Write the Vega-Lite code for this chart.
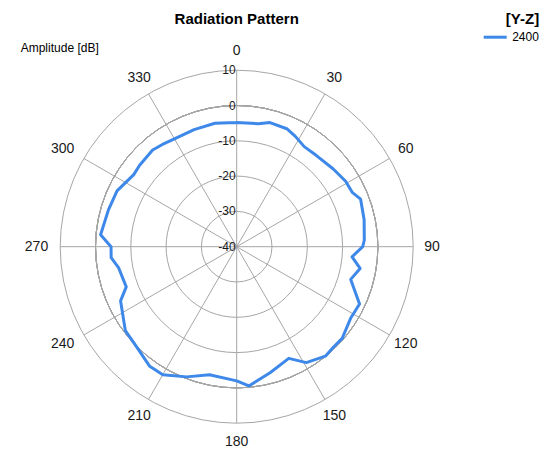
{
  "$schema": "https://vega.github.io/schema/vega-lite/v6.json",
  "width": 353,
  "height": 353,
  "autosize": {"type": "none"},
  "padding": {"left": 60.2, "top": 70.2, "right": 145.8, "bottom": 27.8},
  "background": "white",
  "title": {"text": "Radiation Pattern", "fontSize": 15, "font": "Liberation Sans", "fontWeight": "bold", "color": "#000000", "anchor": "middle", "dy": 19},
  "config": {"view": {"stroke": null}, "font": "Liberation Sans"},
  "datasets": {
    "pattern": [
      {"angle": 0, "dB": -4.8}, {"angle": 10, "dB": -4.6}, {"angle": 15, "dB": -3.6}, {"angle": 23, "dB": -3.7},
      {"angle": 28, "dB": -4.6}, {"angle": 34, "dB": -5.8}, {"angle": 41, "dB": -5.7}, {"angle": 51, "dB": -4.9},
      {"angle": 59, "dB": -4.0}, {"angle": 65, "dB": -3.8}, {"angle": 69, "dB": -2.4}, {"angle": 78, "dB": -3.1},
      {"angle": 87, "dB": -3.8}, {"angle": 90, "dB": -4.3}, {"angle": 95, "dB": -7.2}, {"angle": 100, "dB": -4.5},
      {"angle": 106, "dB": -6.4}, {"angle": 115, "dB": -1.6}, {"angle": 122, "dB": -1.9}, {"angle": 131, "dB": -0.4},
      {"angle": 136, "dB": -0.5}, {"angle": 141, "dB": -0.1}, {"angle": 149, "dB": -1.7}, {"angle": 155, "dB": -5.1},
      {"angle": 165, "dB": -3.1}, {"angle": 175, "dB": -0.4}, {"angle": 180, "dB": -2.0}, {"angle": 192, "dB": -2.9},
      {"angle": 201, "dB": -0.5}, {"angle": 210, "dB": 1.9}, {"angle": 216, "dB": 1.9}, {"angle": 225, "dB": 0.1},
      {"angle": 233, "dB": -0.5}, {"angle": 245, "dB": -3.7}, {"angle": 250, "dB": -6.7}, {"angle": 260, "dB": -6.0},
      {"angle": 265, "dB": -4.3}, {"angle": 270, "dB": -4.4}, {"angle": 275, "dB": -1.3}, {"angle": 286, "dB": -2.2},
      {"angle": 295, "dB": -2.6}, {"angle": 305, "dB": -4.4}, {"angle": 310, "dB": -4.1}, {"angle": 319, "dB": -3.7},
      {"angle": 324, "dB": -4.2}, {"angle": 330, "dB": -4.7}, {"angle": 340, "dB": -4.7}, {"angle": 350, "dB": -4.5},
      {"angle": 360, "dB": -4.8}
    ],
    "rings": [{"dB": -30}, {"dB": -20}, {"dB": -10}, {"dB": 0}, {"dB": 10}],
    "spokes": [{"angle": 0}, {"angle": 30}, {"angle": 60}, {"angle": 90}, {"angle": 120}, {"angle": 150}],
    "angleLabels": [
      {"angle": 0}, {"angle": 30}, {"angle": 60}, {"angle": 90}, {"angle": 120}, {"angle": 150},
      {"angle": 180}, {"angle": 210}, {"angle": 240}, {"angle": 270}, {"angle": 300}, {"angle": 330}
    ],
    "radialLabels": [{"dB": 10}, {"dB": 0}, {"dB": -10}, {"dB": -20}, {"dB": -30}, {"dB": -40}]
  },
  "layer": [
    {
      "data": {"name": "rings"},
      "mark": {"type": "arc", "filled": false, "stroke": "#a6a6a6", "strokeWidth": 1, "theta": 0, "theta2": 6.2832},
      "encoding": {
        "radius": {"field": "dB", "type": "quantitative", "stack": null, "scale": {"type": "linear", "domain": [-40, 10], "range": [0, 176.5], "zero": false}}
      }
    },
    {
      "data": {"name": "spokes"},
      "transform": [
        {"calculate": "50*sin(datum.angle*PI/180)", "as": "x"},
        {"calculate": "50*cos(datum.angle*PI/180)", "as": "y"},
        {"calculate": "-datum.x", "as": "x2"},
        {"calculate": "-datum.y", "as": "y2"}
      ],
      "mark": {"type": "rule", "stroke": "#a6a6a6", "strokeWidth": 1},
      "encoding": {
        "x": {"field": "x", "type": "quantitative", "scale": {"domain": [-50, 50], "nice": false, "zero": false}, "axis": null},
        "y": {"field": "y", "type": "quantitative", "scale": {"domain": [-50, 50], "nice": false, "zero": false},
              "axis": {"title": "Amplitude [dB]", "domain": false, "ticks": false, "labels": false, "grid": false, "titleAngle": 0, "titleX": -40, "titleY": -23, "titleAlign": "left", "titleBaseline": "middle", "titleFontWeight": "normal", "titleFontSize": 12, "titleColor": "#000000", "titleFont": "Liberation Sans"}},
        "x2": {"field": "x2"},
        "y2": {"field": "y2"}
      }
    },
    {
      "data": {"name": "pattern"},
      "transform": [
        {"calculate": "datum.dB + 40", "as": "r"},
        {"calculate": "datum.r*sin(datum.angle*PI/180)", "as": "x"},
        {"calculate": "datum.r*cos(datum.angle*PI/180)", "as": "y"}
      ],
      "mark": {"type": "line", "strokeWidth": 3, "strokeJoin": "round", "strokeCap": "round"},
      "encoding": {
        "x": {"field": "x", "type": "quantitative", "axis": null},
        "y": {"field": "y", "type": "quantitative",
              "axis": {"title": "Amplitude [dB]", "domain": false, "ticks": false, "labels": false, "grid": false, "titleAngle": 0, "titleX": -40, "titleY": -23, "titleAlign": "left", "titleBaseline": "middle", "titleFontWeight": "normal", "titleFontSize": 12, "titleColor": "#000000", "titleFont": "Liberation Sans"}},
        "order": {"field": "angle", "type": "quantitative"},
        "color": {"datum": "2400", "type": "nominal", "scale": {"range": ["#3d88e8"]},
                  "legend": {"title": "[Y-Z]", "orient": "none", "legendX": 422, "legendY": -58, "symbolType": "stroke", "symbolSize": 529, "symbolStrokeWidth": 3, "titleFontSize": 15, "titleFontWeight": "bold", "titleFont": "Liberation Sans", "labelFont": "Liberation Sans", "labelFontSize": 12, "titleAnchor": "end", "titlePadding": -3, "padding": 0, "titleColor": "#000000", "labelColor": "#000000"}}
      }
    },
    {
      "data": {"name": "angleLabels"},
      "transform": [
        {"filter": "datum.angle != 240 && datum.angle != 270 && datum.angle != 300"},
        {"calculate": "55.3*sin(datum.angle*PI/180)", "as": "x"},
        {"calculate": "55.3*cos(datum.angle*PI/180)", "as": "y"}
      ],
      "mark": {"type": "text", "fontSize": 14, "align": "center", "baseline": "middle", "color": "#1a1a1a"},
      "encoding": {
        "x": {"field": "x", "type": "quantitative", "axis": null},
        "y": {"field": "y", "type": "quantitative",
              "axis": {"title": "Amplitude [dB]", "domain": false, "ticks": false, "labels": false, "grid": false, "titleAngle": 0, "titleX": -40, "titleY": -23, "titleAlign": "left", "titleBaseline": "middle", "titleFontWeight": "normal", "titleFontSize": 12, "titleColor": "#000000", "titleFont": "Liberation Sans"}},
        "text": {"field": "angle", "type": "nominal"}
      }
    },
    {
      "data": {"name": "angleLabels"},
      "transform": [
        {"filter": "datum.angle == 240 || datum.angle == 270 || datum.angle == 300"},
        {"calculate": "55.3*sin(datum.angle*PI/180)", "as": "x"},
        {"calculate": "55.3*cos(datum.angle*PI/180)", "as": "y"}
      ],
      "mark": {"type": "text", "fontSize": 14, "align": "center", "baseline": "middle", "color": "#1a1a1a", "dx": -5},
      "encoding": {
        "x": {"field": "x", "type": "quantitative", "axis": null},
        "y": {"field": "y", "type": "quantitative",
              "axis": {"title": "Amplitude [dB]", "domain": false, "ticks": false, "labels": false, "grid": false, "titleAngle": 0, "titleX": -40, "titleY": -23, "titleAlign": "left", "titleBaseline": "middle", "titleFontWeight": "normal", "titleFontSize": 12, "titleColor": "#000000", "titleFont": "Liberation Sans"}},
        "text": {"field": "angle", "type": "nominal"}
      }
    },
    {
      "data": {"name": "radialLabels"},
      "transform": [
        {"calculate": "datum.dB + 40", "as": "r"}
      ],
      "mark": {"type": "text", "fontSize": 12, "align": "right", "baseline": "middle", "color": "#1a1a1a", "dx": -1},
      "encoding": {
        "x": {"datum": 0, "type": "quantitative", "axis": null},
        "y": {"field": "r", "type": "quantitative",
              "axis": {"title": "Amplitude [dB]", "domain": false, "ticks": false, "labels": false, "grid": false, "titleAngle": 0, "titleX": -40, "titleY": -23, "titleAlign": "left", "titleBaseline": "middle", "titleFontWeight": "normal", "titleFontSize": 12, "titleColor": "#000000", "titleFont": "Liberation Sans"}},
        "text": {"field": "dB", "type": "nominal"}
      }
    }
  ]
}
